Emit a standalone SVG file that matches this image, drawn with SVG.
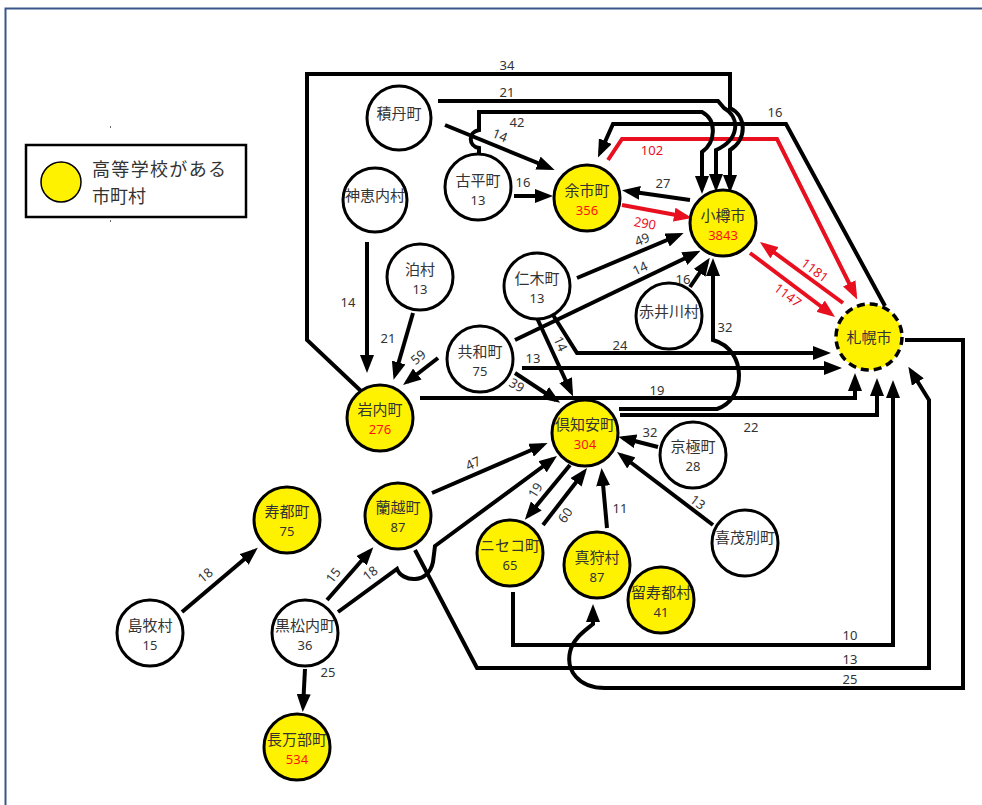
<svg xmlns="http://www.w3.org/2000/svg" width="982" height="805" viewBox="0 0 982 805">
<style>
.e{fill:none;stroke:#000;stroke-width:4;stroke-linejoin:miter}
.r{fill:none;stroke:#e8101e;stroke-width:4;stroke-linejoin:miter}
.n{fill:#fff;stroke:#000;stroke-width:3}
.y{fill:#fff200;stroke:#000;stroke-width:3}
.d{fill:#fff200;stroke:#000;stroke-width:3.5;stroke-dasharray:8 5}
.t{font-family:"Noto Sans CJK JP","Noto Sans",sans-serif;font-size:15px;fill:#333;text-anchor:middle}
.v{font-family:"Noto Sans","Noto Sans CJK JP",sans-serif;font-size:13px;fill:#333;text-anchor:middle}
.vr{font-family:"Noto Sans","Noto Sans CJK JP",sans-serif;font-size:13px;fill:#ff1010;text-anchor:middle}
.l{font-family:"Noto Sans","Noto Sans CJK JP",sans-serif;font-size:13px;fill:#333;text-anchor:middle}
.lr{font-family:"Noto Sans","Noto Sans CJK JP",sans-serif;font-size:13px;fill:#e8101e;text-anchor:middle}
.lg{font-family:"Noto Sans CJK JP","Noto Sans",sans-serif;font-size:18px;fill:#333}
</style>
<defs>
<marker id="ah" viewBox="0 0 18 14" refX="13" refY="7" markerWidth="18" markerHeight="14" markerUnits="userSpaceOnUse" orient="auto"><path d="M0,0 L18,7 L0,14 z" fill="#000"/></marker>
<marker id="ar" viewBox="0 0 18 14" refX="13" refY="7" markerWidth="18" markerHeight="14" markerUnits="userSpaceOnUse" orient="auto"><path d="M0,0 L18,7 L0,14 z" fill="#e8101e"/></marker>
</defs>
<rect x="0" y="0" width="982" height="805" fill="#fff"/>
<g id="frame">
<path d="M5.5,805 L5.5,8.5 L982,8.5" fill="none" stroke="#3a5688" stroke-width="2"/>
<rect x="110" y="126" width="1" height="2" fill="#666"/>
<rect x="110" y="220" width="1" height="2" fill="#666"/>
</g>
<g id="legend">
<rect x="26" y="145" width="220" height="72" fill="#fff" stroke="#000" stroke-width="2.5"/>
<circle cx="61" cy="182" r="20" fill="#fff200" stroke="#000" stroke-width="1.5"/>
<text class="lg" x="92" y="176" textLength="134">高等学校がある</text>
<text class="lg" x="92" y="202.5">市町村</text>
</g>
<g id="connectors">
<path class="r" d="M608,160 L622,139 L777,139 L855,295" marker-end="url(#ar)"/>
<path class="r" d="M622,205 L687,217" marker-end="url(#ar)"/>
<path class="r" d="M843,303 L764,245" marker-end="url(#ar)"/>
<path class="r" d="M750,253 L831,314" marker-end="url(#ar)"/>
<path class="e" d="M885,306 L786,124 L613,124 L600,153" marker-end="url(#ah)"/>
<path class="e" d="M362,392 L307,340 L307,74 L730,74 L730,108 C747,116 747,140 730,150 L730,188" marker-end="url(#ah)"/>
<path class="e" d="M438,101 L718,101 L724,108 C741,118 739,140 716,150 L716,187" marker-end="url(#ah)"/>
<path class="e" d="M479,157 L479,148 C468,146 468,132 479,130 L479,112 L702,112 C717,120 716,142 702,152 L702,189" marker-end="url(#ah)"/>
<path class="e" d="M445,125 L550,168" marker-end="url(#ah)"/>
<path class="e" d="M514,196 L548,196" marker-end="url(#ah)"/>
<path class="e" d="M690,200 L627,191" marker-end="url(#ah)"/>
<path class="e" d="M577,278 L679,235" marker-end="url(#ah)"/>
<path class="e" d="M515,340 L696,253" marker-end="url(#ah)"/>
<path class="e" d="M690,287 L707,262" marker-end="url(#ah)"/>
<path class="e" d="M619,409 L717,409 C746,400 748,350 713,340 L713,263" marker-end="url(#ah)"/>
<path class="e" d="M553,315 L577,353 L826,353" marker-end="url(#ah)"/>
<path class="e" d="M522,368 L837,368" marker-end="url(#ah)"/>
<path class="e" d="M420,398 L855,398 L855,378" marker-end="url(#ah)"/>
<path class="e" d="M620,415 L877,415 L877,383" marker-end="url(#ah)"/>
<path class="e" d="M513,592 L513,645 L893,645 L893,385" marker-end="url(#ah)"/>
<path class="e" d="M415,550 L477,668 L929,668 L929,400 L911,371" marker-end="url(#ah)"/>
<path class="e" d="M905,340 L963,340 L963,688 L605,688 C578,688 566,670 570,652 C573,638 586,630 593,624 L593,609" marker-end="url(#ah)"/>
<path class="e" d="M432,493 L543,445" marker-end="url(#ah)"/>
<path class="e" d="M570,465 L528,516" marker-end="url(#ah)"/>
<path class="e" d="M543,525 L584,472" marker-end="url(#ah)"/>
<path class="e" d="M607,528 L602,473" marker-end="url(#ah)"/>
<path class="e" d="M713,525 L621,455" marker-end="url(#ah)"/>
<path class="e" d="M658,447 L623,438" marker-end="url(#ah)"/>
<path class="e" d="M537,318 L571,392" marker-end="url(#ah)"/>
<path class="e" d="M515,373 L556,400" marker-end="url(#ah)"/>
<path class="e" d="M438,358 L407,382" marker-end="url(#ah)"/>
<path class="e" d="M413,313 L395,375" marker-end="url(#ah)"/>
<path class="e" d="M367,242 L367,368" marker-end="url(#ah)"/>
<path class="e" d="M182,612 L254,551" marker-end="url(#ah)"/>
<path class="e" d="M327,600 L370,551" marker-end="url(#ah)"/>
<path class="e" d="M338,612 L397,569 C402,582 428,585 433,562 L435,546 L553,459" marker-end="url(#ah)"/>
<path class="e" d="M305,669 L303,707" marker-end="url(#ah)"/>
<text class="l" x="507" y="70">34</text>
<text class="l" x="507" y="97">21</text>
<text class="l" x="517" y="127">42</text>
<text class="l" x="500" y="140" transform="rotate(22 500 135)">14</text>
<text class="l" x="523" y="187">16</text>
<text class="l" x="775" y="117">16</text>
<text class="lr" x="652" y="155">102</text>
<text class="l" x="663" y="188">27</text>
<text class="lr" x="645" y="228" transform="rotate(10 645 223)">290</text>
<text class="l" x="642" y="244" transform="rotate(-22 642 239)">49</text>
<text class="l" x="640" y="273" transform="rotate(-25 640 268)">14</text>
<text class="l" x="683" y="284">16</text>
<text class="l" x="725" y="332">32</text>
<text class="l" x="620" y="350">24</text>
<text class="l" x="533" y="363">13</text>
<text class="l" x="657" y="395">19</text>
<text class="l" x="751" y="432">22</text>
<text class="l" x="650" y="437">32</text>
<text class="l" x="560" y="348" transform="rotate(65 560 344)">14</text>
<text class="l" x="517" y="390" transform="rotate(30 517 385)">39</text>
<text class="l" x="418" y="362" transform="rotate(-40 418 357)">59</text>
<text class="l" x="388" y="343">21</text>
<text class="l" x="348" y="307">14</text>
<text class="l" x="473" y="468" transform="rotate(-25 473 463)">47</text>
<text class="l" x="535" y="495" transform="rotate(-58 535 490)">19</text>
<text class="l" x="565" y="520" transform="rotate(-55 565 515)">60</text>
<text class="l" x="620" y="513">11</text>
<text class="l" x="698" y="507" transform="rotate(37 698 502)">13</text>
<text class="l" x="205" y="580" transform="rotate(-40 205 575)">18</text>
<text class="l" x="333" y="580" transform="rotate(-52 333 575)">15</text>
<text class="l" x="370" y="578" transform="rotate(-38 370 573)">18</text>
<text class="l" x="328" y="677">25</text>
<text class="l" x="850" y="640">10</text>
<text class="l" x="850" y="664">13</text>
<text class="l" x="850" y="684">25</text>
<text class="lr" x="815" y="275" transform="rotate(37 815 270)">1181</text>
<text class="lr" x="788" y="300" transform="rotate(37 788 295)">1147</text>
</g>
<g id="n-shakotan"><circle class="n" cx="399" cy="118" r="32"/><text class="t" x="399" y="119">積丹町</text></g>
<g id="n-kamoenai"><circle class="n" cx="375" cy="200" r="32"/><text class="t" x="375" y="201">神恵内村</text></g>
<g id="n-furubira"><circle class="n" cx="478" cy="187" r="33"/><text class="t" x="478" y="186">古平町</text><text class="v" x="478" y="204.5">13</text></g>
<g id="n-yoichi"><circle class="y" cx="587" cy="198" r="33"/><text class="t" x="587" y="196">余市町</text><text class="vr" x="587" y="214.5">356</text></g>
<g id="n-otaru"><circle class="y" cx="723" cy="223" r="33"/><text class="t" x="723" y="221">小樽市</text><text class="vr" x="723" y="239.5">3843</text></g>
<g id="n-tomari"><circle class="n" cx="420" cy="277" r="33"/><text class="t" x="420" y="275">泊村</text><text class="v" x="420" y="293.5">13</text></g>
<g id="n-niki"><circle class="n" cx="537" cy="286" r="33"/><text class="t" x="537" y="284">仁木町</text><text class="v" x="537" y="302.5">13</text></g>
<g id="n-akaigawa"><circle class="n" cx="669" cy="316" r="33"/><text class="t" x="669" y="317">赤井川村</text></g>
<g id="n-kyowa"><circle class="n" cx="480" cy="359" r="33"/><text class="t" x="480" y="357">共和町</text><text class="v" x="480" y="375.5">75</text></g>
<g id="n-sapporo"><circle class="d" cx="869" cy="337" r="33"/><text class="t" x="869" y="343">札幌市</text></g>
<g id="n-iwanai"><circle class="y" cx="380" cy="418" r="33"/><text class="t" x="380" y="415">岩内町</text><text class="vr" x="380" y="433.5">276</text></g>
<g id="n-kutchan"><circle class="y" cx="585" cy="433" r="33"/><text class="t" x="585" y="430">倶知安町</text><text class="vr" x="585" y="448.5">304</text></g>
<g id="n-kyogoku"><circle class="n" cx="693" cy="455" r="33"/><text class="t" x="693" y="452">京極町</text><text class="v" x="693" y="470.5">28</text></g>
<g id="n-kimobetsu"><circle class="n" cx="745" cy="543" r="33"/><text class="t" x="745" y="543">喜茂別町</text></g>
<g id="n-rankoshi"><circle class="y" cx="398" cy="516" r="33"/><text class="t" x="398" y="513">蘭越町</text><text class="v" x="398" y="531.5">87</text></g>
<g id="n-suttsu"><circle class="y" cx="287" cy="520" r="33"/><text class="t" x="287" y="517">寿都町</text><text class="v" x="287" y="535.5">75</text></g>
<g id="n-niseko"><circle class="y" cx="510" cy="553" r="33"/><text class="t" x="510" y="551">ニセコ町</text><text class="v" x="510" y="569.5">65</text></g>
<g id="n-makkari"><circle class="y" cx="597" cy="565" r="33"/><text class="t" x="597" y="563">真狩村</text><text class="v" x="597" y="581.5">87</text></g>
<g id="n-rusutsu"><circle class="y" cx="661" cy="600" r="33"/><text class="t" x="661" y="598">留寿都村</text><text class="v" x="661" y="616.5">41</text></g>
<g id="n-shimamaki"><circle class="n" cx="150" cy="633" r="33"/><text class="t" x="150" y="631">島牧村</text><text class="v" x="150" y="649.5">15</text></g>
<g id="n-kuromatsunai"><circle class="n" cx="305" cy="633" r="33"/><text class="t" x="305" y="631">黒松内町</text><text class="v" x="305" y="649.5">36</text></g>
<g id="n-oshamambe"><circle class="y" cx="297" cy="747" r="33"/><text class="t" x="297" y="745">長万部町</text><text class="vr" x="297" y="763.5">534</text></g>
</svg>
